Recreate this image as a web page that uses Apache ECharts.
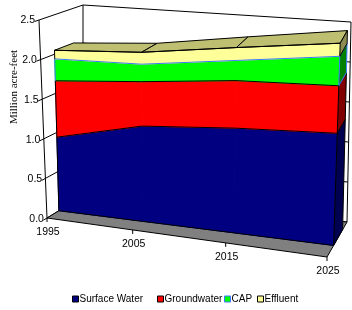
<!DOCTYPE html>
<html>
<head>
<meta charset="utf-8">
<script src="https://cdn.jsdelivr.net/npm/echarts@6/dist/echarts.min.js"></script>
<style>
html, body { margin: 0; padding: 0; background: #fff; }
#chart { width: 352px; height: 310px; }
</style>
</head>
<body>
<div id="chart"></div>
<script>
// data (million acre-feet)
const years = [1995, 2005, 2015, 2025];
const surfaceWater = [0.94, 1.20, 1.30, 1.37];
const groundwater = [0.72, 0.56, 0.59, 0.58];
const cap = [0.28, 0.22, 0.25, 0.36];
const effluent = [0.11, 0.15, 0.16, 0.16];
const seriesNames = ['Surface Water', 'Groundwater', 'CAP', 'Effluent'];
const yTicks = [0, 0.5, 1.0, 1.5, 2.0, 2.5];
const yTickLabels = ['0.0', '0.5', '1.0', '1.5', '2.0', '2.5'];
const xTicks = [1995, 2005, 2015, 2025];

// screen corners of the 3-D box, front plane (depth 0) and back wall (depth 1)
const FRONT = { b0: [47, 218], b1: [327, 257], t0: [39, 20], t1: [335, 50] };
const BACK = { b0: [83, 196], b1: [347, 222], t0: [83, 5], t1: [351, 22] };
const PERSP = 1.134;          // foreshortening along the year axis
const DEPTH = [0.33, 0.78];   // front / back of the area slab
const LEGEND_X = [72, 157, 224, 257];

const STYLE = [
  { fill: '#000080', side: '#000050', edge: '#000000' },
  { fill: '#ff0000', side: '#800000', edge: '#000000' },
  { fill: '#00ff00', side: '#008000', edge: '#3a78ff' },
  { fill: '#ffff99', side: '#8c8c50', edge: '#000000', top: '#bfbf72' }
];

const bands = [surfaceWater, groundwater, cap, effluent];
const bases = [];
const tops = [];
let run = years.map(() => 0);
bands.forEach(vals => {
  bases.push(run.slice());
  run = run.map((r, i) => r + vals[i]);
  tops.push(run.slice());
});

function lerp(a, b, k) {
  return [a[0] + (b[0] - a[0]) * k, a[1] + (b[1] - a[1]) * k];
}
function plane(p, f, u) {
  return lerp(lerp(p.b0, p.b1, f), lerp(p.t0, p.t1, f), u);
}
function project(t, u, d) {
  const f = t / (PERSP + (1 - PERSP) * t);
  return lerp(plane(FRONT, f, u), plane(BACK, f, u), d);
}
// (year, value, depth) -> pixel, via the hidden grid's axes
function mapper(params, api) {
  const cs = params.coordSys;
  return (yr, v, d) => {
    const p = api.coord([yr, v]);
    return project((p[0] - cs.x) / cs.width, (cs.y + cs.height - p[1]) / cs.height, d);
  };
}
function line(points, color, z2) {
  return { type: 'polyline', z2: z2, shape: { points: points }, style: { stroke: color, lineWidth: 1, fill: null } };
}
function poly(points, fill, stroke, z2) {
  return { type: 'polygon', z2: z2, shape: { points: points }, style: { fill: fill, stroke: stroke, lineWidth: stroke ? 1 : 0 } };
}

function renderFrame(params, api) {
  const P = mapper(params, api);
  const x0 = years[0];
  const x1 = years[years.length - 1];
  const vMax = yTicks[yTicks.length - 1];
  const out = [];
  yTicks.forEach((v, i) => {
    out.push(line([P(x0, v, 1), P(x1, v, 1)], '#000', 0));
    out.push(line([P(x0, v, 0), P(x0, v, 1)], '#000', 0));
    const tickEnd = P(x0, v, -0.1);
    out.push(line([P(x0, v, 0), tickEnd], '#000', 3));
    out.push({
      type: 'text', z2: 3, x: tickEnd[0] + 0.5, y: tickEnd[1] - 1,
      style: { text: yTickLabels[i], fill: '#000', font: '10.5px "Liberation Sans", Arial', textAlign: 'right', textVerticalAlign: 'middle' }
    });
  });
  out.push(line([P(x0, 0, 0), P(x0, vMax, 0)], '#000', 2));
  out.push(line([P(x0, 0, 1), P(x0, vMax, 1)], '#000', 0));
  out.push(line([P(x1, 0, 1), P(x1, vMax, 1)], '#000', 0));
  out.push(poly([P(x0, 0, 0), P(x1, 0, 0), P(x1, 0, 1), P(x0, 0, 1)], '#808080', '#000', 1));
  xTicks.forEach(yr => {
    const p = P(yr, 0, 0);
    out.push(line([p, [p[0], p[1] + 4]], '#000', 3));
    out.push({
      type: 'text', z2: 3, x: p[0] + 1, y: p[1] + 14,
      style: { text: String(yr), fill: '#000', font: '10.5px "Liberation Sans", Arial', textAlign: 'center', textVerticalAlign: 'middle' }
    });
  });
  return { type: 'group', children: out };
}

function bandRenderer(k) {
  return function (params, api) {
    const P = mapper(params, api);
    const st = STYLE[k];
    const i = params.dataIndex;
    const n = years.length;
    const d0 = DEPTH[0];
    const d1 = DEPTH[1];
    const y0 = years[i];
    const b0 = bases[k][i];
    const t0 = tops[k][i];
    const out = [];
    if (i < n - 1) {
      const y1 = years[i + 1];
      const b1 = bases[k][i + 1];
      const t1 = tops[k][i + 1];
      out.push(poly([P(y0, b0, d0), P(y1, b1, d0), P(y1, t1, d0), P(y0, t0, d0)], st.fill, st.fill, 0));
      out.push(line([P(y0, t0, d0), P(y1, t1, d0)], st.edge, 10));
      if (k === 0) out.push(line([P(y0, b0, d0), P(y1, b1, d0)], '#000', 10));
      if (st.top) {
        out.push(poly([P(y0, t0, d0), P(y1, t1, d0), P(y1, t1, d1), P(y0, t0, d1)], st.top, '#000', 5));
      }
    }
    if (i === 0) {
      out.push(line([P(y0, b0, d0), P(y0, t0, d0)], st.edge, 10));
    }
    if (i === n - 1) {
      out.push(poly([P(y0, b0, d0), P(y0, b0, d1), P(y0, t0, d1), P(y0, t0, d0)], st.side, st.edge, 6));
    }
    return { type: 'group', children: out };
  };
}

const series = [{
  type: 'custom',
  name: 'frame',
  z: 1,
  silent: true,
  renderItem: renderFrame,
  data: [[years[0], 0]]
}];
seriesNames.forEach((name, k) => {
  series.push({
    type: 'custom',
    name: name,
    z: 2,
    silent: true,
    itemStyle: { color: STYLE[k].fill },
    renderItem: bandRenderer(k),
    data: years.map((yr, i) => [yr, bases[k][i], tops[k][i]])
  });
});

const legends = seriesNames.map((name, k) => ({
  left: LEGEND_X[k],
  top: 294,
  padding: 0,
  icon: 'rect',
  itemWidth: 6,
  itemHeight: 6,
  selectedMode: false,
  textStyle: { fontSize: 10, fontFamily: '"Liberation Sans", Arial', color: '#000', padding: [0, 0, 0, -4] },
  data: [{
    name: name,
    itemStyle: { color: STYLE[k].fill, borderColor: k === 2 ? '#3a78ff' : '#000', borderWidth: 1 }
  }]
}));

const chart = echarts.init(document.getElementById('chart'), null, { renderer: 'canvas' });
chart.setOption({
  animation: false,
  grid: { left: 0, right: 0, top: 0, bottom: 0 },
  xAxis: { type: 'value', min: 1995, max: 2025, show: false },
  yAxis: { type: 'value', min: 0, max: 2.5, show: false },
  legend: legends,
  graphic: [{
    type: 'text',
    x: 14,
    y: 87,
    rotation: Math.PI / 2,
    style: { text: 'Million acre-feet', fill: '#000', font: '11px "Liberation Serif", "Times New Roman"', textAlign: 'center', textVerticalAlign: 'middle' }
  }],
  series: series
});
</script>
</body>
</html>
